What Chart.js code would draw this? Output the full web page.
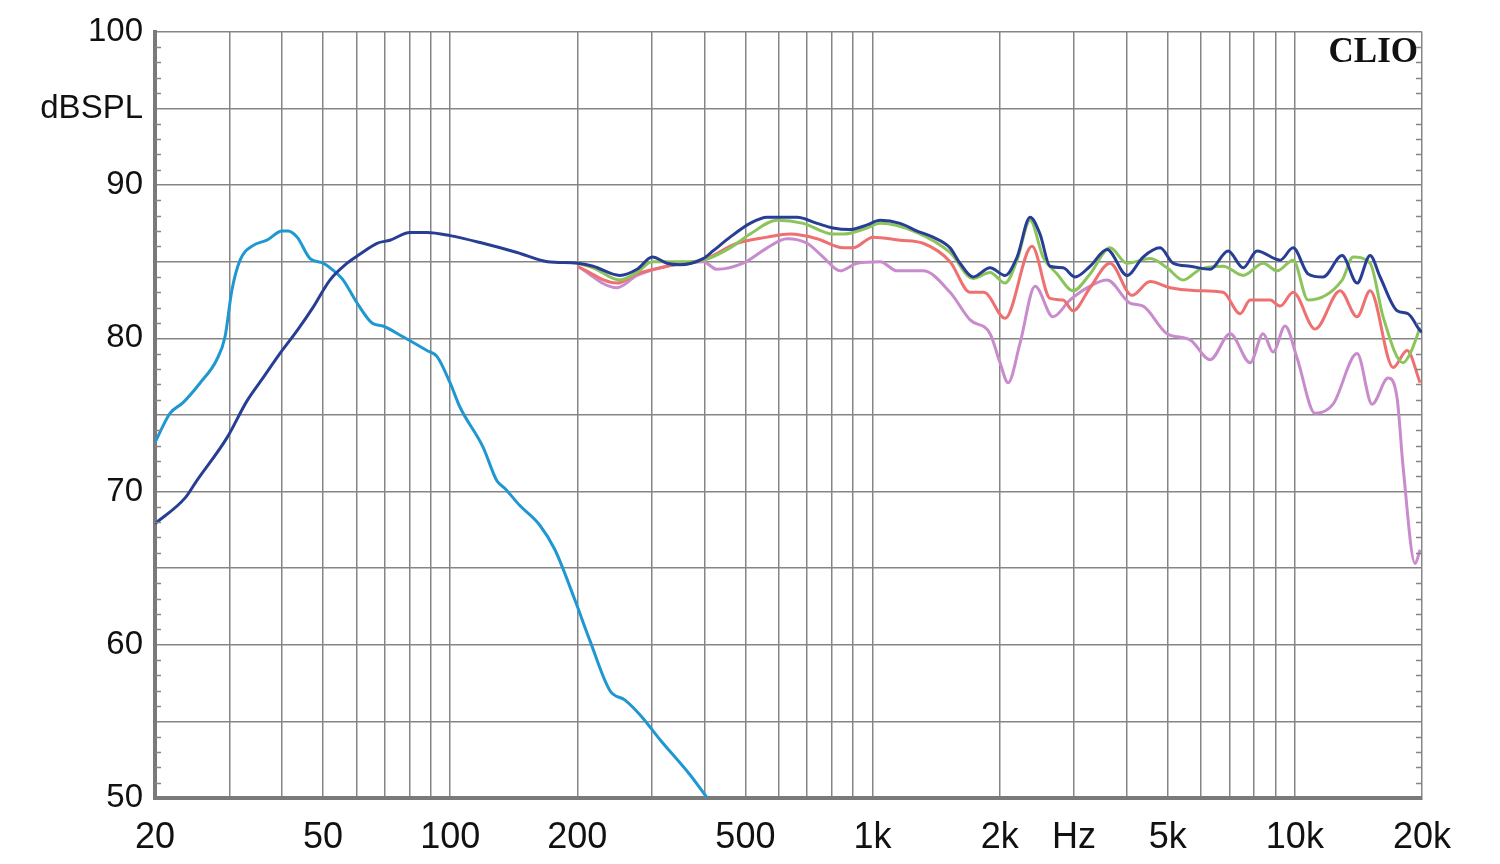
<!DOCTYPE html>
<html>
<head>
<meta charset="utf-8">
<script src="https://cdn.jsdelivr.net/npm/chart.js@4.4.0/dist/chart.umd.min.js"></script>
<style>
  html, body { margin: 0; padding: 0; background: #fff; }
  #wrap { width: 1500px; height: 864px; }
</style>
</head>
<body>
<div id="wrap"><canvas id="spl" width="1500" height="864"></canvas></div>
<script>
// frequency response
const fullFreq = [20, 23.6, 25.1, 29.6, 33, 36, 39.5, 43.4, 47.3, 51.9, 57, 61.2, 67.1, 72, 80.3, 88.1, 99.9, 119.6, 144, 170,
  200, 218, 252, 277, 301, 326, 350, 397, 419, 460, 513, 563, 663, 739, 806, 885, 971, 1042, 1162, 1275, 1391, 1526, 1611, 1730,
  1898, 2060, 2199, 2361, 2492, 2632, 2826, 3017, 3274, 3592, 4006, 4371, 4796, 5148, 5648, 6300, 6950, 7543, 8138, 9228, 9906,
  10750, 11666, 12938, 14042, 15072, 15916, 17460, 18542, 19794, 20000];
const fullDb = [67.9, 69.6, 70.7, 73.5, 75.9, 77.4, 79.0, 80.5, 82.0, 83.8, 84.9, 85.5, 86.2, 86.4, 86.9, 86.9, 86.7, 86.2, 85.6, 85.0,
  84.9, 84.7, 84.1, 84.5, 85.3, 84.9, 84.8, 85.2, 85.7, 86.6, 87.5, 87.9, 87.9, 87.5, 87.2, 87.1, 87.4, 87.7, 87.5, 87.0, 86.6, 85.9, 84.9, 84.0,
  84.6, 84.1, 85.3, 87.9, 86.8, 84.7, 84.6, 84.0, 84.7, 85.8, 84.1, 85.3, 85.9, 84.9, 84.7, 84.5, 85.7, 84.6, 85.7, 85.1, 85.9,
  84.2, 84.0, 85.4, 83.6, 85.4, 84.0, 81.8, 81.6, 80.5, 80.4];

const wooferFreq = [20, 21.7, 23.3, 25.6, 28, 29.3, 30.4, 31.8, 34.1, 36.8, 40, 41.3, 43.4, 46.6, 50, 52.5, 55.8, 60.2, 65.3, 69.3,
  77.3, 88.1, 93.1, 99.9, 105.5, 119.6, 129, 134.8, 146, 163, 177, 197.5, 214, 239, 259, 282, 314, 370, 406];
const wooferDb = [73.2, 75.1, 75.8, 77.1, 78.6, 80.1, 83.1, 85.1, 86.05, 86.4, 87.0, 87.0, 86.6, 85.2, 84.9, 84.5, 83.8, 82.3, 81.0, 80.8,
  80.1, 79.2, 78.8, 77.1, 75.5, 72.9, 70.7, 70.2, 69.1, 67.8, 66.2, 62.9, 60.3, 57.0, 56.4, 55.4, 53.8, 51.5, 50.0];

const greenFreq = [200, 218, 252, 277, 301, 350, 397, 460, 513, 594, 685, 806, 852, 971, 1042, 1275, 1526, 1730, 1898, 2060,
  2199, 2361, 2534, 2735, 2984, 3274, 3650, 4006, 4542, 4983, 5437, 5964, 6762, 7543, 8410, 9078, 9906, 10750, 12938, 13740,
  15072, 16178, 18042, 18746, 19794];
const greenDb = [84.9, 84.6, 83.8, 84.3, 85.0, 85.0, 85.1, 85.9, 86.8, 87.7, 87.5, 86.8, 86.8, 87.2, 87.5, 86.9, 85.6, 83.9, 84.3, 83.6,
  85.1, 87.7, 85.3, 84.2, 83.1, 84.2, 85.9, 84.9, 85.2, 84.6, 83.8, 84.5, 84.7, 84.1, 84.9, 84.4, 85.1, 82.5, 83.8, 85.3,
  84.9, 81.4, 78.4, 79.0, 80.7];

const redFreq = [200, 248, 277, 326, 397, 478, 563, 638, 739, 852, 899, 1003, 1162, 1317, 1526, 1702, 1827, 1867, 2060, 2386,
  2632, 2826, 2984, 3274, 3650, 4115, 4542, 5065, 5868, 6762, 7420, 7836, 8738, 9228, 9906, 11168, 12798, 14042, 15072,
  17086, 18442, 19794];
const redDb = [84.7, 83.6, 84.2, 84.7, 85.1, 86.2, 86.6, 86.8, 86.5, 85.9, 85.9, 86.6, 86.4, 86.2, 85.0, 83.0, 83.0, 82.9, 81.3, 86.0,
  82.6, 82.5, 81.8, 83.3, 84.9, 82.8, 83.7, 83.3, 83.1, 83.0, 81.6, 82.5, 82.5, 82.1, 83.0, 80.6, 83.1, 81.4, 83.1,
  78.1, 79.2, 77.1];

const pinkFreq = [200, 248, 277, 326, 397, 428, 494, 563, 627, 700, 764, 838, 919, 1042, 1143, 1317, 1526, 1702, 1898, 2004,
  2094, 2236, 2426, 2675, 2936, 3274, 3592, 4071, 4371, 4983, 5648, 6300, 7026, 7836, 8410, 8882, 9482, 10124, 11168, 12318,
  14042, 15236, 16624, 17460, 18042, 19264, 19794];
const pinkDb = [84.7, 83.3, 84.1, 84.7, 85.0, 84.5, 84.9, 85.9, 86.5, 86.2, 85.3, 84.4, 84.9, 85.0, 84.4, 84.4, 83.0, 81.2, 80.3, 78.4,
  77.1, 79.7, 83.4, 81.4, 82.5, 83.4, 83.8, 82.3, 82.1, 80.3, 79.9, 78.6, 80.3, 78.4, 80.3, 79.1, 80.8, 78.7, 75.1, 75.7,
  79.0, 75.7, 77.4, 76.1, 71.6, 65.3, 66.2];

const freqTicks = [20, 30, 40, 50, 60, 70, 80, 90, 100, 200, 300, 400, 500, 600, 700, 800, 900,
  1000, 2000, 3000, 4000, 5000, 6000, 7000, 8000, 9000, 10000, 20000];
const freqLabels = {20: '20', 50: '50', 100: '100', 200: '200', 500: '500', 1000: '1k', 2000: '2k',
  3000: 'Hz', 5000: '5k', 10000: '10k', 20000: '20k'};

function pts(fs, ds) {
  return fs.map((f, i) => ({x: f, y: ds[i]}));
}

const gridGray = '#858585';

// short 1 dB ticks inside left and right frame + CLIO mark
const frameExtras = {
  id: 'frameExtras',
  afterDraw(chart) {
    const {ctx, chartArea: {left, right, top}} = chart;
    const y = chart.scales.y;
    ctx.save();
    ctx.strokeStyle = gridGray;
    ctx.lineWidth = 1.5;
    for (let v = 51; v < 100; v++) {
      if (v % 5 === 0) continue;
      const py = Math.round(y.getPixelForValue(v)) + 0.5;
      ctx.beginPath();
      ctx.moveTo(left, py); ctx.lineTo(left + 6, py);
      ctx.moveTo(right, py); ctx.lineTo(right - 6, py);
      ctx.stroke();
    }
    ctx.fillStyle = '#111';
    ctx.font = 'bold 35px "Liberation Serif", serif';
    ctx.textAlign = 'right';
    ctx.textBaseline = 'alphabetic';
    ctx.fillText('CLIO', right - 4, top + 30);
    ctx.restore();
  }
};

const line = (data, color) => ({
  data: data,
  borderColor: color,
  borderWidth: 3,
  pointRadius: 0,
  fill: false,
  cubicInterpolationMode: 'monotone'
});

new Chart(document.getElementById('spl').getContext('2d'), {
  type: 'line',
  plugins: [frameExtras],
  data: {
    datasets: [
      line(pts(fullFreq, fullDb), '#283e94'),
      line(pts(wooferFreq, wooferDb), '#1f98d2'),
      line(pts(greenFreq, greenDb), '#8cc45c'),
      line(pts(redFreq, redDb), '#ef7070'),
      line(pts(pinkFreq, pinkDb), '#c88ccd')
    ]
  },
  options: {
    responsive: false,
    animation: false,
    layout: { padding: { top: 31, right: 78, left: 0, bottom: 0 } },
    plugins: { legend: { display: false }, tooltip: { enabled: false } },
    scales: {
      x: {
        type: 'logarithmic',
        min: 20,
        max: 20000,
        afterBuildTicks(scale) {
          scale.ticks = freqTicks.map(v => ({value: v}));
        },
        afterFit(scale) { scale.height = 66; },
        grid: { color: gridGray, lineWidth: 1.5, drawTicks: false },
        border: { display: true, color: '#7a7a7a', width: 4 },
        ticks: {
          autoSkip: false,
          maxRotation: 0,
          padding: 18,
          color: '#111',
          font: { family: '"Liberation Sans Narrow", "Arial Narrow", sans-serif', size: 36 },
          callback: v => freqLabels[v] || ''
        }
      },
      y: {
        type: 'linear',
        min: 50,
        max: 100,
        afterFit(scale) { scale.width = 155; },
        grid: { color: gridGray, lineWidth: 1.5, drawTicks: false },
        border: { display: true, color: '#7a7a7a', width: 4 },
        ticks: {
          stepSize: 5,
          padding: 12,
          color: '#111',
          font: { family: '"Liberation Sans", Arial, sans-serif', size: 33 },
          callback: v => (v % 10 === 0 ? String(v) : (v === 95 ? 'dBSPL' : ''))
        }
      }
    }
  }
});
</script>
</body>
</html>
